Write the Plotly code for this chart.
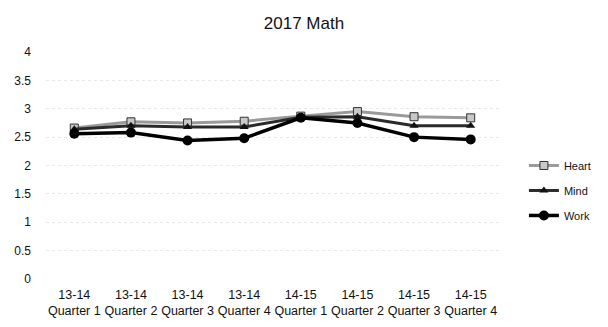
import plotly.graph_objects as go

categories = ["13-14<br>Quarter 1", "13-14<br>Quarter 2", "13-14<br>Quarter 3", "13-14<br>Quarter 4",
              "14-15<br>Quarter 1", "14-15<br>Quarter 2", "14-15<br>Quarter 3", "14-15<br>Quarter 4"]
heart = [2.66, 2.77, 2.75, 2.78, 2.87, 2.95, 2.86, 2.84]
mind = [2.64, 2.70, 2.68, 2.68, 2.85, 2.86, 2.70, 2.70]
work = [2.56, 2.58, 2.44, 2.48, 2.84, 2.75, 2.50, 2.46]
y_ticks = [0, 0.5, 1, 1.5, 2, 2.5, 3, 3.5, 4]

font = "Liberation Sans, Roboto, sans-serif"

fig = go.Figure()
fig.add_trace(go.Scatter(x=categories, y=heart, name="Heart", mode="lines+markers",
                         line=dict(color="#9a9a9a", width=3),
                         marker=dict(symbol="square", size=8, color="#c8c8c8",
                                     line=dict(color="#333333", width=1)),
                         legendgroup="h"))
fig.add_trace(go.Scatter(x=categories, y=mind, name="Mind", mode="lines+markers",
                         line=dict(color="#2a2a2a", width=3),
                         marker=dict(symbol="triangle-up", size=8, color="#111111"),
                         legendgroup="m"))
fig.add_trace(go.Scatter(x=categories, y=work, name="Work", mode="lines+markers",
                         line=dict(color="#000000", width=3.5),
                         marker=dict(symbol="circle", size=10, color="#000000"),
                         legendgroup="w"))

fig.update_layout(
    width=608, height=327,
    paper_bgcolor="white", plot_bgcolor="white",
    margin=dict(l=46, r=102, t=52, b=48),
    title=dict(text="2017 Math", x=0.5, xanchor="center", y=0.93, yanchor="middle",
               font=dict(family=font, size=17, color="#111111")),
    font=dict(family=font, size=11, color="#111111"),
    xaxis=dict(showgrid=False, showline=False, zeroline=False, ticks="", automargin=False,
               ticklabelstandoff=6, tickangle=0,
               tickfont=dict(size=12.5, color="#111111"), range=[-0.5, 7.5]),
    yaxis=dict(range=[0, 4], tickvals=y_ticks, ticktext=[("%g" % v) for v in y_ticks],
               showgrid=True, gridcolor="#e8e8e8", griddash="dot", gridwidth=1,
               zeroline=False, showline=False, ticks="", ticklabelstandoff=14, automargin=False,
               tickfont=dict(size=12, color="#111111")),
    legend=dict(x=1.055, xanchor="left", y=0.39, yanchor="middle", tracegroupgap=6,
                font=dict(size=11, color="#111111"), bgcolor="rgba(0,0,0,0)"),
)

fig.write_html("out.html", config={"displayModeBar": False},
               post_script="document.body.style.margin='0';")
